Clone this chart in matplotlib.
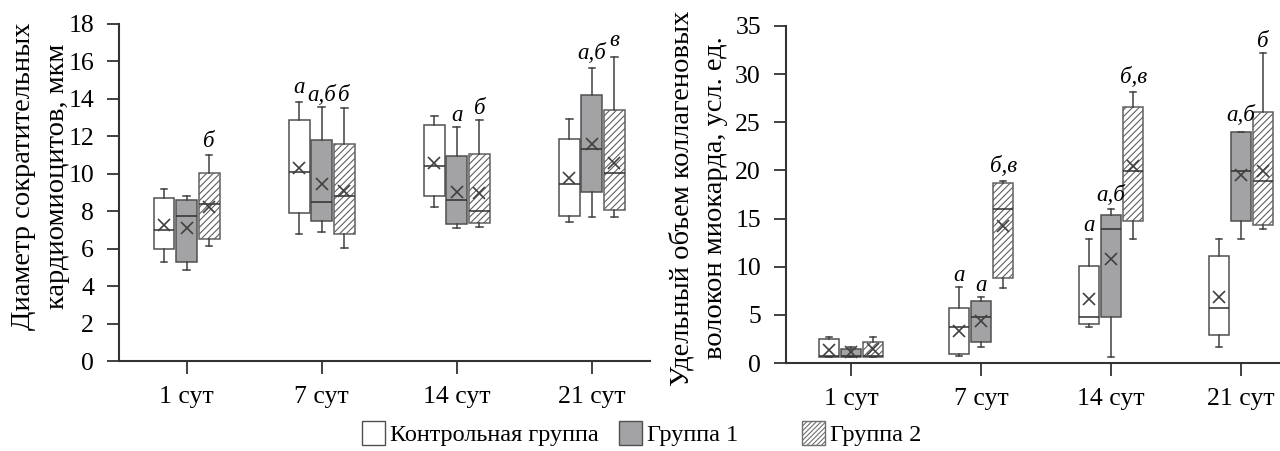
import matplotlib
matplotlib.use("Agg")
import matplotlib.pyplot as plt
from matplotlib.patches import Patch

plt.rcParams['font.family'] = ['Liberation Serif', 'DejaVu Serif']
plt.rcParams['hatch.linewidth'] = 0.8

days = ['1 сут', '7 сут', '14 сут', '21 сут']
groups = ['Контрольная группа', 'Группа 1', 'Группа 2']

# Left panel: diameter of cardiomyocytes, мкм  -> [whislo, q1, med, q3, whishi, mean]
diam_control = [[5.3, 6.0, 7.0, 8.7, 9.2, 7.25], [6.8, 7.9, 10.1, 12.85, 13.85, 10.3],
                [8.25, 8.8, 10.4, 12.6, 13.1, 10.6], [7.4, 7.75, 9.45, 11.85, 12.95, 9.75]]
diam_g1 = [[4.85, 5.3, 7.75, 8.6, 8.8, 7.1], [6.9, 7.5, 8.5, 11.8, 13.55, 9.45],
           [7.1, 7.3, 8.6, 10.95, 12.5, 9.05], [7.7, 9.05, 11.3, 14.2, 15.65, 11.6]]
diam_g2 = [[6.15, 6.5, 8.4, 10.05, 11.0, 8.25], [6.05, 6.8, 8.8, 11.6, 13.5, 9.1],
           [7.15, 7.35, 8.0, 11.05, 12.85, 8.95], [7.7, 8.05, 10.05, 13.4, 16.25, 10.6]]

# Right panel: collagen fiber volume, усл. ед.
coll_control = [[0.65, 0.65, 0.7, 2.45, 2.75, 1.35], [0.7, 0.9, 3.7, 5.7, 7.85, 3.3],
                [3.7, 4.1, 4.75, 10.05, 12.85, 6.6], [1.65, 2.95, 5.7, 11.1, 12.85, 6.85]]
coll_g1 = [[0.65, 0.65, 0.7, 1.42, 1.7, 1.1], [1.65, 2.15, 4.75, 6.45, 6.85, 4.4],
           [0.65, 4.75, 13.9, 15.4, 15.95, 10.8], [12.85, 14.75, 19.95, 24.0, 24.0, 19.5]]
coll_g2 = [[0.65, 0.65, 0.7, 2.2, 2.75, 1.5], [7.8, 8.85, 15.95, 18.7, 18.95, 14.25],
           [12.85, 14.7, 19.95, 26.6, 28.15, 20.5], [13.9, 14.3, 18.95, 26.05, 32.2, 19.95]]

diam_labels = [[None, None, 'б'], ['а', 'а,б', 'б'], [None, 'а', 'б'], [None, 'а,б', 'в']]
diam_label_y = [[None, None, 11.7], [14.6, 14.2, 14.2], [None, 13.1, 13.5], [None, 16.4, 17.1]]
coll_labels = [[None, None, None], ['а', 'а', 'б,в'], ['а', 'а,б', 'б,в'], [None, 'а,б', 'б']]
coll_label_y = [[None, None, None], [9.1, 8.1, 20.4], [14.3, 17.4, 29.7], [None, 25.75, 33.4]]

H = 451
fig = plt.figure(figsize=(12.8, 4.51), dpi=100)
axL = fig.add_axes([119/1280, (H-361)/H, 531/1280, 337/H])
axR = fig.add_axes([786/1280, (H-363)/H, 494/1280, 337/H])

styles = [dict(facecolor='white', hatch=None),
          dict(facecolor='#a3a3a5', hatch=None),
          dict(facecolor='white', hatch='/////')]


def draw(ax, series, labels, label_y, d, ylim, yticks, xlim, ylabel, lab_xy):
    for gi, data in enumerate(series):
        stats = []
        for v in data:
            stats.append(dict(whislo=v[0], q1=v[1], med=v[2], q3=v[3], whishi=v[4], mean=v[5], fliers=[]))
        pos = [i + 0.5 + (gi - 1) * d for i in range(len(days))]
        bp = ax.bxp(stats, positions=pos, widths=0.155, patch_artist=True, showmeans=True,
                    showfliers=False, capwidths=0.05,
                    boxprops=dict(edgecolor='#505050', linewidth=1.1),
                    medianprops=dict(color='#303030', linewidth=1.1),
                    whiskerprops=dict(color='#404040', linewidth=1.1),
                    capprops=dict(color='#404040', linewidth=1.1),
                    meanprops=dict(marker='x', markeredgecolor='#404040', markersize=8,
                                   markeredgewidth=1.2))
        for b in bp['boxes']:
            b.set_facecolor(styles[gi]['facecolor'])
            if styles[gi]['hatch']:
                b.set_hatch(styles[gi]['hatch'])
                b.set_edgecolor('#606060')
        for i in range(len(days)):
            lab = labels[i][gi]
            if lab:
                ax.text(pos[i], label_y[i][gi], lab, ha='center', va='center',
                        fontsize=16.5, style='italic')
    ax.set_xlim(*xlim)
    ax.set_ylim(*ylim)
    ax.set_yticks(yticks)
    ax.set_xticks([i + 0.5 for i in range(len(days))])
    ax.set_xticklabels(days)
    ax.tick_params(labelsize=18.5, length=9, width=1.3, color='#333333')
    ax.tick_params(axis='y', pad=9)
    ax.tick_params(axis='x', pad=9)
    for s in ['top', 'right']:
        ax.spines[s].set_visible(False)
    for s in ['left', 'bottom']:
        ax.spines[s].set_linewidth(1.5)
        ax.spines[s].set_color('#333333')
    ax.set_ylabel(ylabel, fontsize=20.5, linespacing=1.45, va='center')
    ax.yaxis.set_label_coords(*lab_xy)


draw(axL, [diam_control, diam_g1, diam_g2], diam_labels, diam_label_y, 0.167,
     (0, 18), range(0, 19, 2), (0, 3.93), 'Диаметр сократительных\nкардиомиоцитов, мкм',
     (-0.148, 0.547))
draw(axR, [coll_control, coll_g1, coll_g2], coll_labels, coll_label_y, 0.17,
     (0, 35), range(0, 36, 5), (0, 3.8), 'Удельный объем коллагеновых\nволокон миокарда, усл. ед.',
     (-0.177, 0.49))

handles = [Patch(facecolor='white', edgecolor='#505050'),
           Patch(facecolor='#a3a3a5', edgecolor='#505050'),
           Patch(facecolor='white', edgecolor='#707070', hatch='///////')]
leg_x = [362, 619, 802]
for h, g, lx in zip(handles, groups, leg_x):
    fig.legend([h], [g], loc='center left', bbox_to_anchor=(lx / 1280, 0.038),
               frameon=False, fontsize=17.5, handlelength=0.95, handleheight=1.1,
               handletextpad=0.2, borderaxespad=0, borderpad=0)

fig.savefig('out.png', dpi=100)
